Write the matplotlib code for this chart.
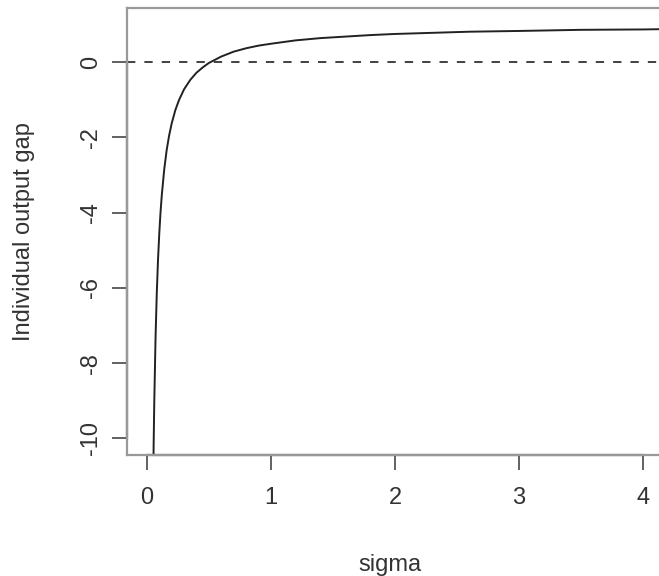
import numpy as np
import matplotlib
matplotlib.use("Agg")
import matplotlib.pyplot as plt

plt.rcParams['font.family'] = ['Liberation Sans', 'DejaVu Sans']
plt.rcParams['axes.unicode_minus'] = False
plt.rcParams['lines.scale_dashes'] = False

# individual output gap against sigma
sigma = [0.05, 0.055, 0.06, 0.07, 0.08, 0.09, 0.10, 0.11, 0.12, 0.14, 0.16,
         0.18, 0.20, 0.23, 0.26, 0.30, 0.35, 0.40, 0.45, 0.50, 0.60, 0.70,
         0.80, 0.90, 1.00, 1.20, 1.40, 1.60, 1.80, 2.00, 2.30, 2.60, 3.00,
         3.50, 4.00, 4.20]
gap = [-11.5, -10.1, -9.0, -7.33, -6.14, -5.25, -4.56, -4.0, -3.55, -2.85, -2.33,
       -1.94, -1.63, -1.27, -1.0, -0.72, -0.47, -0.28, -0.14, -0.02, 0.15, 0.28,
       0.37, 0.44, 0.49, 0.58, 0.64, 0.68, 0.72, 0.75, 0.78, 0.81, 0.83,
       0.86, 0.87, 0.88]

xticks = [0, 1, 2, 3, 4]
yticks = [0, -2, -4, -6, -8, -10]

W, H = 659, 576
fig = plt.figure(figsize=(W / 100, H / 100), dpi=100)
ax = fig.add_axes([127 / W, 1 - 455 / H, (663 - 127) / W, (455 - 8) / H])

ax.plot(sigma, gap, color='#222222', lw=1.4)
ax.axhline(0, color='#333333', lw=1.3, dashes=(6, 6.5))

ax.set_xlim(-0.16, 4.16)
ax.set_ylim(-10.44, 1.44)

for s in ax.spines.values():
    s.set_color('#999999')
    s.set_linewidth(1.6)

# axis lines over the tick range, drawn over the box
ax.plot([0, 4], [-10.44, -10.44], color='#444444', lw=1.6, clip_on=False)
ax.plot([-0.16, -0.16], [-10, 0], color='#444444', lw=1.6, clip_on=False)

ax.set_xticks(xticks)
ax.set_xticklabels([str(t) for t in xticks])
ax.set_yticks(yticks)
ax.set_yticklabels([str(t) for t in yticks], rotation=90, va='center')
ax.tick_params(axis='both', length=10.8, width=1.3, color='#555555',
               labelsize=17, labelcolor='#333333')
ax.tick_params(axis='x', pad=12)
ax.tick_params(axis='y', pad=7)

fig.text(390 / W, 1 - 565 / H, 'sigma', ha='center', va='center',
         fontsize=17, color='#333333')
fig.text(24 / W, 1 - 232 / H, 'Individual output gap', ha='center', va='center',
         rotation=90, fontsize=17, color='#333333')

fig.savefig('out.png', dpi=100)
